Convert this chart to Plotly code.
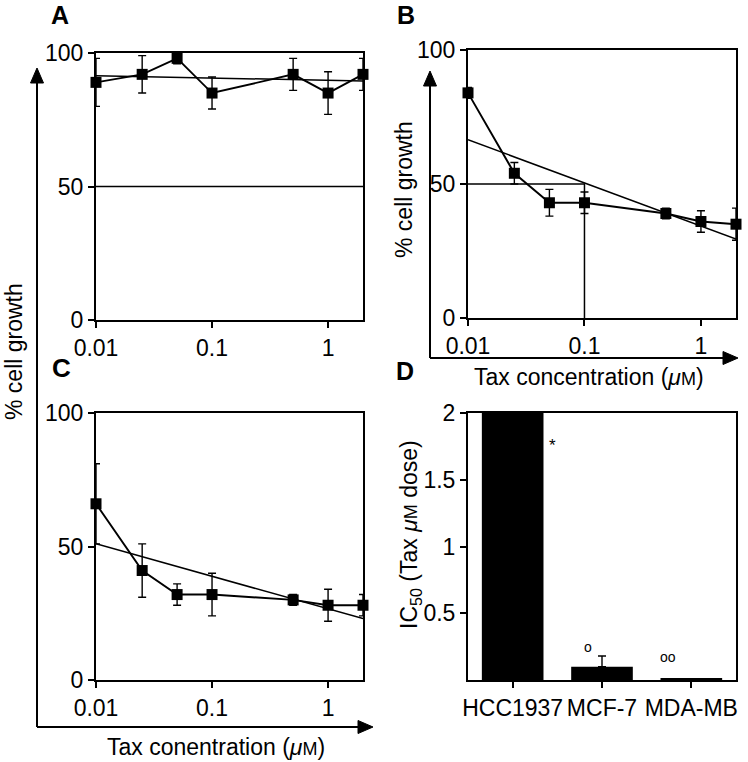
import plotly.graph_objects as go

# ---------------- data ----------------
conc = [0.01, 0.025, 0.05, 0.1, 0.5, 1, 2]
growth_A = [89, 92, 98, 85, 92, 85, 92]
err_A = [9, 7, 2, 6, 6, 8, 6]
growth_B = [84, 54, 43, 43, 39, 36, 35]
err_B = [2, 4, 5, 4, 2, 4, 6]
growth_C = [66, 41, 32, 32, 30, 28, 28]
err_C = [15, 10, 4, 8, 2, 6, 4]
fit_x = [0.01, 2]
fit_A = [91.5, 89.5]
fit_B = [66.5, 29.5]
fit_C = [51, 23]
ic50_B = 0.1
cell_lines = ["HCC1937", "MCF-7", "MDA-MB"]
ic50 = [2.0, 0.1, 0.01]
ic50_err_plus = [0, 0.08, 0]
ic50_err_minus = [0, 0, 0]
conc_ticks = [0.01, 0.1, 1]
conc_ticktext = ["0.01", "0.1", "1"]
growth_ticks = [0, 50, 100]
ic50_ticks = [0.5, 1, 1.5, 2]
ic50_ticktext = ["0.5", "1", "1.5", "2"]

W, H = 748, 762
FONT = "Liberation Sans, Arial, Helvetica, sans-serif"
FS = 23


def px(x):
    return x / W


def py(y):
    return 1 - y / H


fig = go.Figure()

marker = dict(symbol="square", size=11, color="black")
line = dict(color="black", width=1.9)


def add_panel(xa, ya, y, err, fit):
    fig.add_trace(go.Scatter(x=conc, y=y, mode="lines+markers", marker=marker, line=line,
                             error_y=dict(type="data", array=err, visible=True, color="black",
                                          thickness=1.4, width=4),
                             xaxis=xa, yaxis=ya, cliponaxis=False, showlegend=False))
    fig.add_trace(go.Scatter(x=fit_x, y=fit, mode="lines", line=dict(color="black", width=1.5),
                             xaxis=xa, yaxis=ya, cliponaxis=False, showlegend=False))


add_panel("x", "y", growth_A, err_A, fit_A)
fig.add_trace(go.Scatter(x=fit_x, y=[50, 50], mode="lines", line=dict(color="black", width=1.5),
                         xaxis="x", yaxis="y", showlegend=False))
add_panel("x2", "y2", growth_B, err_B, fit_B)
fig.add_trace(go.Scatter(x=[fit_x[0], ic50_B, ic50_B], y=[50, 50, 0], mode="lines",
                         line=dict(color="black", width=1.5),
                         xaxis="x2", yaxis="y2", showlegend=False))
add_panel("x3", "y3", growth_C, err_C, fit_C)

fig.add_trace(go.Bar(x=cell_lines, y=ic50, width=0.69, marker=dict(color="black", line=dict(width=0)),
                     error_y=dict(type="data", symmetric=False, array=ic50_err_plus,
                                  arrayminus=ic50_err_minus, color="black", thickness=1.4, width=4),
                     xaxis="x4", yaxis="y4", showlegend=False))

common_axis = dict(showline=True, linecolor="black", linewidth=2, mirror=True, ticks="outside",
                   ticklen=6, tickwidth=1.5, tickcolor="black", showgrid=False, zeroline=False,
                   automargin=False,
                   tickfont=dict(family=FONT, size=FS, color="black"))

xlog = dict(type="log", range=[-2, 0.30103], tickvals=conc_ticks, ticktext=conc_ticktext, **common_axis)
ylin = dict(range=[0, 100], tickvals=growth_ticks, **common_axis)

dom_x_left = [px(96), px(363)]
dom_x_right = [px(468), px(736)]
dom_y_top_A = [py(320), py(53)]
dom_y_top_B = [py(318), py(50)]
dom_y_bot = [py(680), py(413)]

fig.update_layout(
    width=W, height=H, margin=dict(l=0, r=0, t=0, b=0, autoexpand=False),
    paper_bgcolor="white", plot_bgcolor="white",
    font=dict(family=FONT, size=FS, color="black"),
    xaxis=dict(domain=dom_x_left, anchor="y", **xlog),
    yaxis=dict(domain=dom_y_top_A, anchor="x", **ylin),
    xaxis2=dict(domain=dom_x_right, anchor="y2", **xlog),
    yaxis2=dict(domain=dom_y_top_B, anchor="x2", **ylin),
    xaxis3=dict(domain=dom_x_left, anchor="y3", **xlog),
    yaxis3=dict(domain=dom_y_bot, anchor="x3", **ylin),
    xaxis4=dict(domain=dom_x_right, anchor="y4", type="category", range=[-0.5, 2.5],
                tickangle=0, **common_axis),
    yaxis4=dict(domain=dom_y_bot, anchor="x4", range=[0, 2], tickvals=ic50_ticks,
                ticktext=ic50_ticktext, **common_axis),
)

# outer L-shaped arrow axes (decorative)
shapes = []


def arrow_L(x0, ytop, ybot, xright):
    shapes.append(dict(type="line", xref="paper", yref="paper", x0=px(x0), x1=px(x0),
                       y0=py(ybot), y1=py(ytop + 12), line=dict(color="black", width=2)))
    shapes.append(dict(type="line", xref="paper", yref="paper", x0=px(x0), x1=px(xright - 12),
                       y0=py(ybot), y1=py(ybot), line=dict(color="black", width=2)))
    shapes.append(dict(type="path", xref="paper", yref="paper",
                       path=f"M {px(x0)} {py(ytop)} L {px(x0 - 6.5)} {py(ytop + 15)} L {px(x0 + 6.5)} {py(ytop + 15)} Z",
                       fillcolor="black", line=dict(color="black", width=1)))
    shapes.append(dict(type="path", xref="paper", yref="paper",
                       path=f"M {px(xright)} {py(ybot)} L {px(xright - 15)} {py(ybot - 6.5)} L {px(xright - 15)} {py(ybot + 6.5)} Z",
                       fillcolor="black", line=dict(color="black", width=1)))


arrow_L(37, 68, 727, 373)
arrow_L(430, 71, 358, 738)
fig.update_layout(shapes=shapes)

ann = []


def text(x, y, s, size=FS, bold=False, angle=0, xanchor="center", yanchor="middle"):
    ann.append(dict(xref="paper", yref="paper", x=px(x), y=py(y), text=f"<b>{s}</b>" if bold else s,
                    showarrow=False, textangle=angle, xanchor=xanchor, yanchor=yanchor,
                    font=dict(family=FONT, size=size, color="black")))


text(60, 15, "A", size=25, bold=True)
text(406, 15, "B", size=25, bold=True)
text(61, 368, "C", size=26, bold=True)
text(405, 371, "D", size=25, bold=True)
mu_m = "(<i>μ</i><span style='font-size:18px'>M</span>)"
text(14, 352, "% cell growth", angle=-90)
text(404, 190, "% cell growth", angle=-90)
text(589, 377, "Tax concentration " + mu_m)
text(216, 747, "Tax conentration " + mu_m)
text(410, 535, "IC<sub>50</sub> (Tax <i>μ</i><span style='font-size:18px'>M</span> dose)", angle=-90)

# significance marks on D
ann.append(dict(xref="x4", yref="y4", x=0.45, y=1.76, text="*", showarrow=False,
                font=dict(family=FONT, size=17, color="black")))
ann.append(dict(xref="x4", yref="y4", x=0.84, y=0.25, text="o", showarrow=False,
                font=dict(family=FONT, size=14, color="black")))
ann.append(dict(xref="x4", yref="y4", x=1.74, y=0.17, text="oo", showarrow=False,
                font=dict(family=FONT, size=14, color="black")))
fig.update_layout(annotations=ann)

fig.write_html("out.html", config={"displayModeBar": False},
               post_script="document.body.style.margin='0px';document.body.style.overflow='hidden';")
